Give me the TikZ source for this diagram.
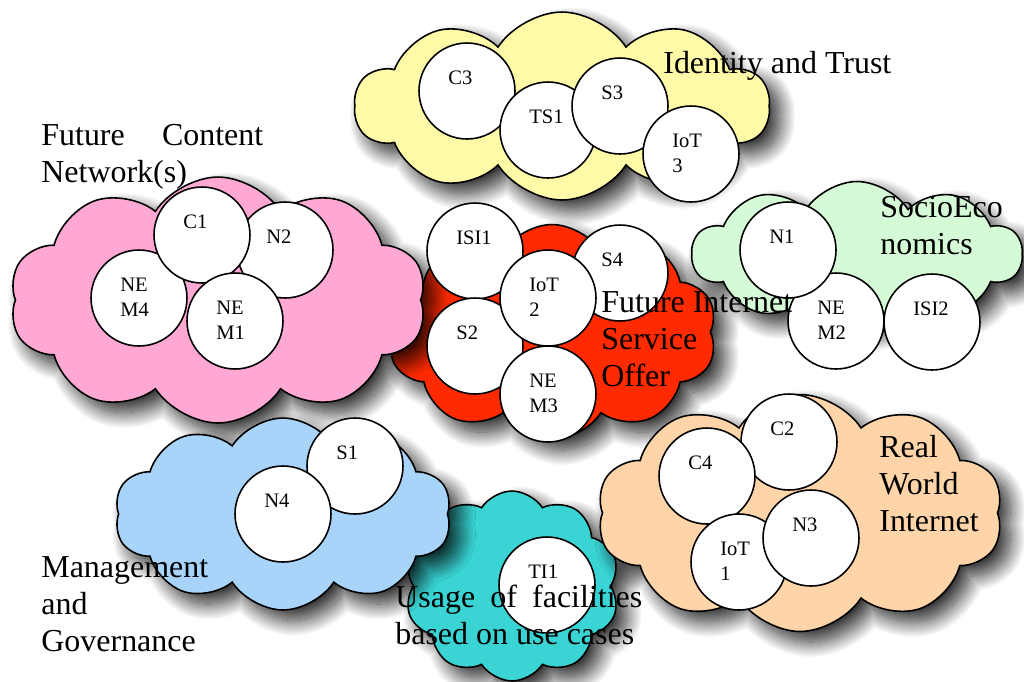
\documentclass[tikz,border=0pt]{standalone}
\usepackage{fontspec}
\setmainfont{Liberation Serif}
\usetikzlibrary{shapes.symbols,shadows.blur}
\definecolor{cyel}{RGB}{255,250,168}
\definecolor{cpink}{RGB}{255,168,212}
\definecolor{cred}{RGB}{255,42,0}
\definecolor{cgreen}{RGB}{212,250,214}
\definecolor{cblue}{RGB}{168,212,250}
\definecolor{cteal}{RGB}{58,212,212}
\definecolor{corange}{RGB}{255,212,168}
\tikzset{
  cloudbox/.style={cloud, cloud puffs=10, cloud puff arc=115, cloud ignores aspect,
    draw=black, line width=0.9pt, inner sep=0pt,
    blur shadow={shadow xshift=6pt, shadow yshift=-6pt, shadow blur radius=9pt, shadow blur steps=24, shadow opacity=85}},
  ball/.style={circle, draw=black, fill=white, line width=0.9pt, minimum size=1.92cm, inner sep=0pt},
  smalltxt/.style={anchor=north west, inner sep=0pt, align=left, font=\fontsize{11.7}{13.9}\selectfont},
  bigtxt/.style={anchor=north west, inner sep=0pt, align=left, font=\fontsize{18.2}{21}\selectfont},
}
\newcommand\mycirc[4]{%
  \node[ball] (#1) at (#2,#3) {};
  \node[smalltxt] (#1t) at ([shift={(-19,-20)}]#1.center) {#4};}
\begin{document}
\begin{tikzpicture}[x=0.02cm, y=-0.02cm]
\useasboundingbox (0,0) rectangle (1024,681);
% clouds
\node[cloudbox, fill=cred, minimum width=6.6cm, minimum height=4.3cm] (kred) at (552,332) {};
\node[cloudbox, fill=cpink, minimum width=8.34cm, minimum height=4.92cm] (kpink) at (218,300) {};
\node[cloudbox, fill=cyel, minimum width=8.3cm, minimum height=3.76cm] (kyel) at (562,106) {};
\node[cloudbox, fill=cgreen, minimum width=6.6cm, minimum height=2.9cm] (kgreen) at (857,254) {};
\node[cloudbox, fill=cteal, minimum width=4.3cm, minimum height=3.8cm] (kteal) at (512,586) {};
\node[cloudbox, fill=cblue, minimum width=6.74cm, minimum height=3.84cm] (kblue) at (283,514) {};
\node[cloudbox, fill=corange, minimum width=8.12cm, minimum height=4.74cm] (korange) at (800,513) {};
% circles
\mycirc{c3}{467}{91}{C3}
\mycirc{ts1}{548}{130}{TS1}
\mycirc{s3}{620}{106}{S3}
\mycirc{iot3}{691}{154}{IoT\\3}
\mycirc{nem4}{139}{298}{NE\\M4}
\mycirc{n2}{285}{250}{N2}
\mycirc{c1}{202}{235}{C1}
\mycirc{nem1}{235}{321}{NE\\M1}
\mycirc{isi1}{475}{251}{ISI1}
\mycirc{s2}{475}{346}{S2}
\mycirc{s4}{620}{273}{S4}
\mycirc{iot2}{548}{298}{IoT\\2}
\mycirc{nem3}{548}{394}{NE\\M3}
\mycirc{nem2}{836}{321}{NE\\M2}
\mycirc{isi2}{932}{322}{ISI2}
\mycirc{n1}{788}{250}{N1}
\mycirc{s1}{355}{466}{S1}
\mycirc{n4}{283}{514}{N4}
\mycirc{ti1}{547}{585}{TI1}
\mycirc{c2}{789}{442}{C2}
\mycirc{c4}{707}{476}{C4}
\mycirc{iot1}{739}{562}{IoT\\1}
\mycirc{n3}{811}{538}{N3}
% labels
\node[bigtxt] (tid) at (663,51) {Identity and Trust};
\node[bigtxt] (tfc) at (41,124) {\makebox[4.44cm][s]{Future Content}\\Network(s)};
\node[bigtxt] (tse) at (880,196) {SocioEco\\nomics};
\node[bigtxt] (tfi) at (601,291) {Future Internet\\Service\\Offer};
\node[bigtxt] (trw) at (879,435) {Real\\World\\Internet};
\node[bigtxt] (tmg) at (41,556) {Management\\and\\Governance};
\node[bigtxt] (tus) at (395,585) {\makebox[4.94cm][s]{Usage of facilities}\\based on use cases};
\end{tikzpicture}
\end{document}
